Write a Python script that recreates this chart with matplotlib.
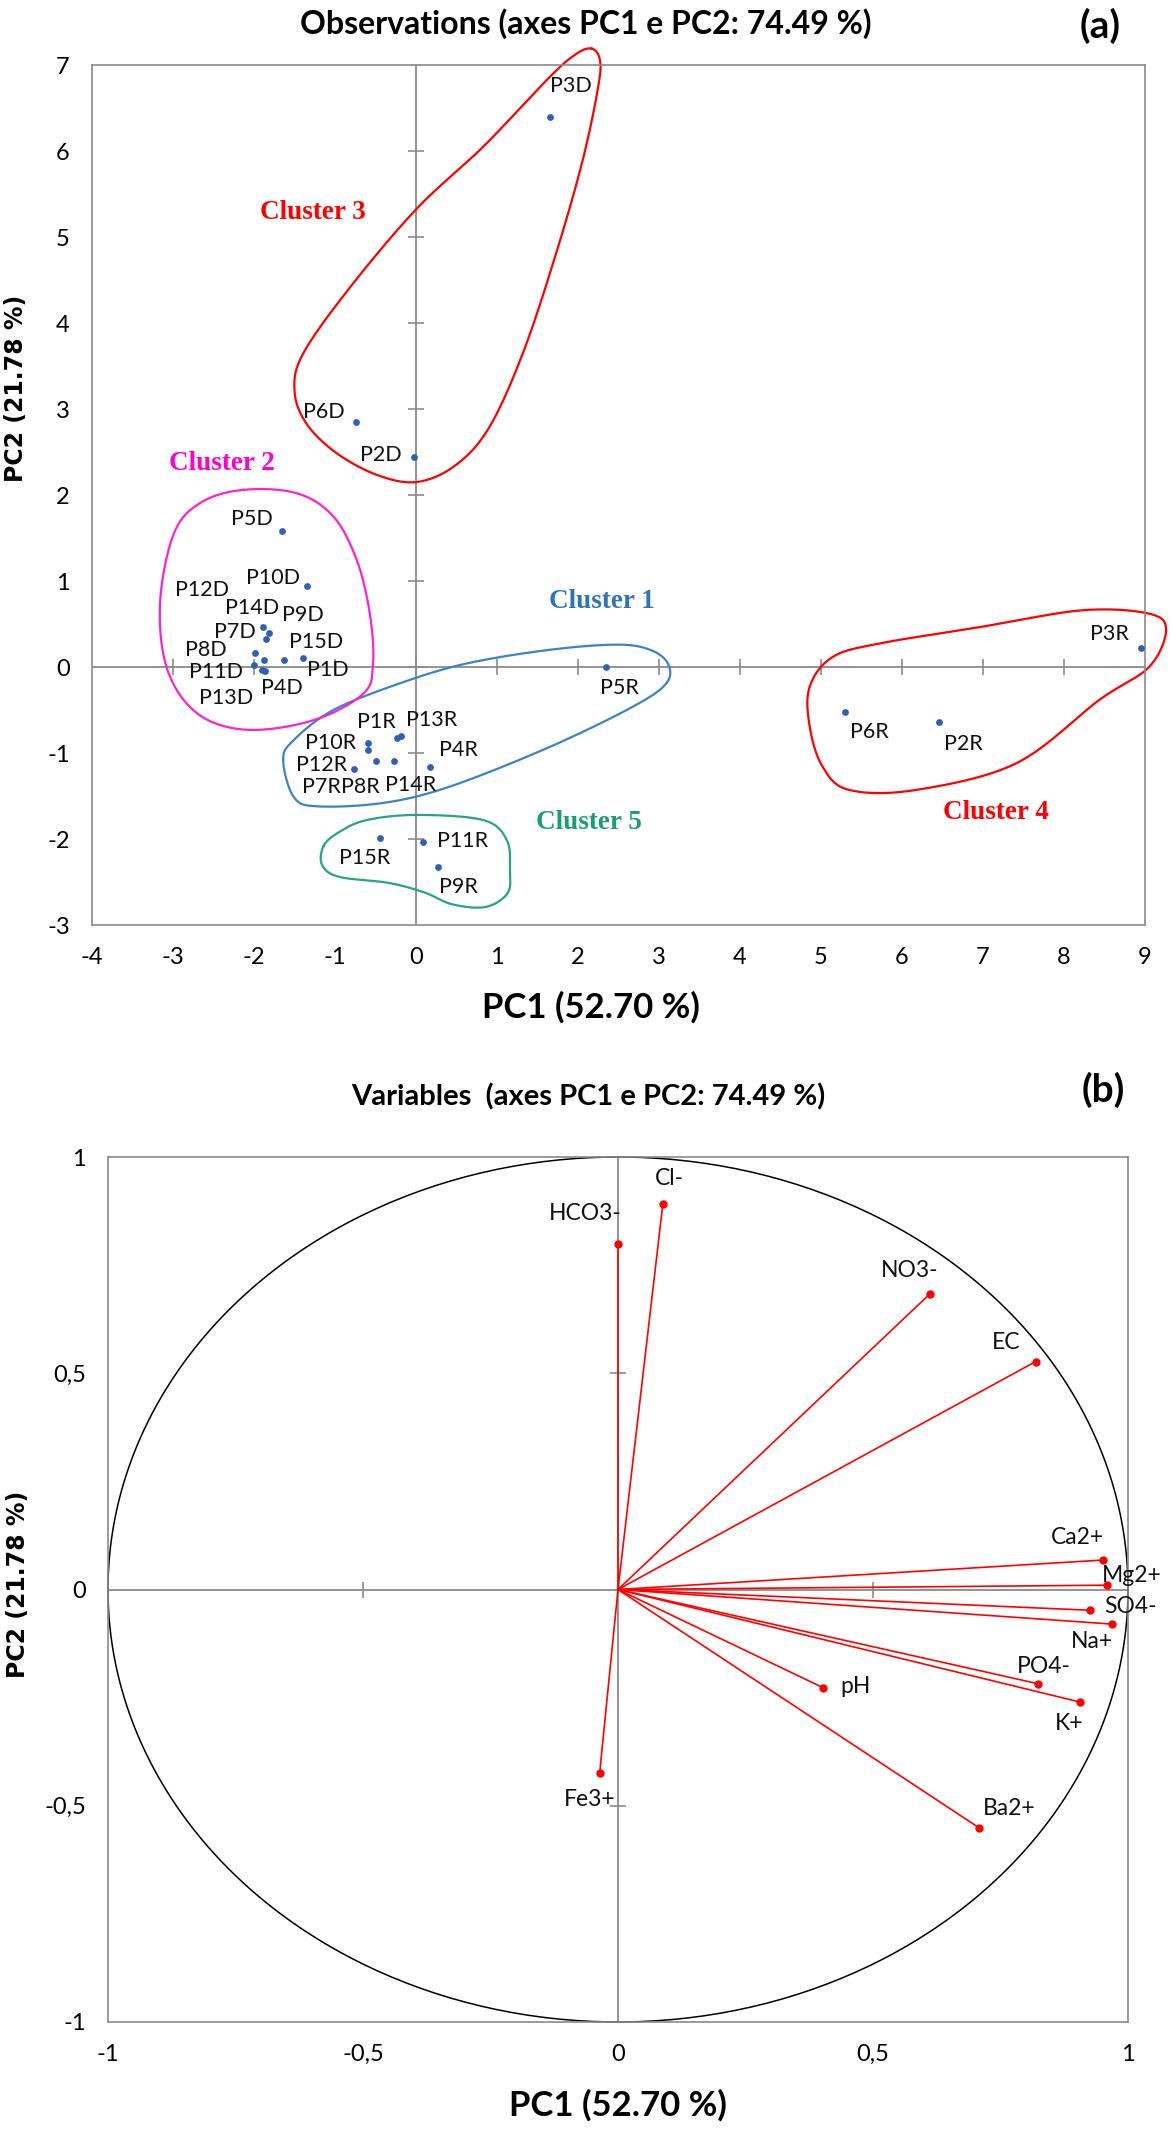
import numpy as np
import matplotlib
matplotlib.use("Agg")
import matplotlib.pyplot as plt

# ---- data ----
obs_names = ["P1D", "P2D", "P3D", "P4D", "P5D", "P6D", "P7D", "P8D", "P9D", "P10D",
             "P11D", "P12D", "P13D", "P14D", "P15D",
             "P1R", "P2R", "P3R", "P4R", "P5R", "P6R", "P7R", "P8R", "P9R", "P10R",
             "P11R", "P12R", "P13R", "P14R", "P15R"]
obs_pc1 = [-1.40, -0.03, 1.66, -1.88, -1.66, -0.74, -1.85, -2.00, -1.81, -1.35,
           -1.90, -1.985, -1.87, -1.89, -1.63,
           -0.24, 6.46, 8.95, 0.17, 2.34, 5.30, -0.59, -0.49, 0.27, -0.59,
           0.09, -0.76, -0.18, -0.27, -0.44]
obs_pc2 = [0.10, 2.44, 6.40, 0.08, 1.58, 2.85, 0.33, 0.02, 0.39, 0.94,
           -0.03, 0.16, -0.05, 0.46, 0.08,
           -0.83, -0.64, 0.22, -1.16, 0.00, -0.52, -0.97, -1.09, -2.33, -0.88,
           -2.04, -1.19, -0.80, -1.09, -1.99]

var_names = ["HCO3-", "Cl-", "NO3-", "EC", "Ca2+", "Mg2+", "SO4-", "Na+",
             "PO4-", "K+", "pH", "Ba2+", "Fe3+"]
var_pc1 = [0.000, 0.088, 0.612, 0.819, 0.950, 0.958, 0.925, 0.969,
           0.824, 0.905, 0.402, 0.708, -0.036]
var_pc2 = [0.799, 0.892, 0.684, 0.527, 0.068, 0.010, -0.048, -0.080,
           -0.218, -0.260, -0.227, -0.551, -0.425]

xticks_a = list(range(-4, 10))
yticks_a = list(range(-3, 8))
ticks_b = [-1, -0.5, 0, 0.5, 1]
ticklabels_b = ["-1", "-0,5", "0", "0,5", "1"]

# ---- label placement (offsets from the point, data units) ----
obs_label_off = {
    "P1D": (0.31, -0.14), "P2D": (-0.41, 0.03), "P3D": (0.25, 0.36), "P4D": (0.22, -0.33),
    "P5D": (-0.37, 0.14), "P6D": (-0.40, 0.11), "P7D": (-0.38, 0.08), "P8D": (-0.60, 0.18),
    "P9D": (0.41, 0.21), "P10D": (-0.41, 0.09), "P11D": (-0.57, -0.03), "P12D": (-0.655, 0.73),
    "P13D": (-0.47, -0.31), "P14D": (-0.14, 0.23), "P15D": (0.40, 0.21),
    "P1R": (-0.25, 0.19), "P2R": (0.30, -0.26), "P3R": (-0.39, 0.16), "P4R": (0.36, 0.19),
    "P5R": (0.17, -0.25), "P6R": (0.30, -0.24), "P7R": (-0.58, -0.43), "P8R": (-0.20, -0.31),
    "P9R": (0.26, -0.23), "P10R": (-0.47, 0.0), "P11R": (0.49, 0.02), "P12R": (-0.40, 0.05),
    "P13R": (0.37, 0.18), "P14R": (0.20, -0.28), "P15R": (-0.20, -0.23),
}
var_label_off = {
    "HCO3-": (-0.064, 0.071), "Cl-": (0.013, 0.059), "NO3-": (-0.04, 0.054),
    "EC": (-0.057, 0.044), "Ca2+": (-0.049, 0.052), "Mg2+": (0.049, 0.023),
    "SO4-": (0.08, 0.008), "Na+": (-0.039, -0.041), "PO4-": (0.01, 0.039),
    "K+": (-0.021, -0.05), "pH": (0.064, 0.003), "Ba2+": (0.059, 0.044),
    "Fe3+": (-0.019, -0.06),
}

# hand drawn cluster outlines (annotation shapes)
RED = "#ff0000"
clusters = [
    ("Cluster 1", "#2e75b6", "#3a84c6", (2.29, 0.76),
     [(-1.64, -1.08), (-1.51, -1.51), (-1.22, -1.62), (-0.40, -1.58), (0.42, -1.39),
      (1.65, -0.93), (2.68, -0.46), (3.09, -0.19), (3.11, 0.04), (2.89, 0.20),
      (2.48, 0.26), (1.65, 0.20), (0.62, 0.04), (-0.20, -0.19), (-1.02, -0.50),
      (-1.51, -0.85)]),
    ("Cluster 2", "#ff00cc", "#ff22cc", (-2.40, 2.37),
     [(-2.13, 2.06), (-1.47, 2.02), (-1.02, 1.75), (-0.73, 1.24), (-0.57, 0.62),
      (-0.53, 0.04), (-0.65, -0.31), (-1.27, -0.62), (-2.09, -0.73), (-2.70, -0.54),
      (-3.07, -0.03), (-3.16, 0.74), (-2.99, 1.55), (-2.66, 1.91)]),
    ("Cluster 3", RED, RED, (-1.27, 5.29),
     [(2.17, 7.19), (2.27, 7.06), (2.25, 6.75), (2.06, 5.90), (1.73, 4.81),
      (1.32, 3.65), (0.90, 2.78), (0.48, 2.34), (0.0, 2.15), (-0.50, 2.24),
      (-1.00, 2.50), (-1.36, 2.84), (-1.50, 3.22), (-1.39, 3.65), (-0.81, 4.42),
      (0.01, 5.33), (0.83, 6.05), (1.65, 6.86), (1.98, 7.13)]),
    ("Cluster 4", RED, RED, (7.16, -1.69),
     [(9.26, 0.43), (9.05, 0.62), (8.23, 0.66), (7.00, 0.47), (5.76, 0.28),
      (5.15, 0.12), (4.86, -0.23), (4.86, -0.69), (5.02, -1.16), (5.35, -1.43),
      (6.17, -1.43), (7.41, -1.12), (8.44, -0.38), (9.05, 0.00)]),
    ("Cluster 5", "#1a9e72", "#25a585", (2.13, -1.81),
     [(-1.14, -2.08), (-0.95, -1.92), (-0.61, -1.78), (0.01, -1.72), (0.83, -1.78),
      (1.12, -2.01), (1.16, -2.36), (1.13, -2.63), (0.86, -2.79), (0.45, -2.76),
      (0.10, -2.62), (-0.34, -2.51), (-0.95, -2.44), (-1.16, -2.30)]),
]


def closed_spline(pts, n=30):
    # closed Catmull-Rom curve through the outline vertices
    p = np.asarray(pts, float)
    m = len(p)
    t = np.linspace(0, 1, n, endpoint=False)[:, None]
    segs = []
    for i in range(m):
        p0, p1, p2, p3 = p[i - 1], p[i], p[(i + 1) % m], p[(i + 2) % m]
        segs.append(0.5 * (2 * p1 + (-p0 + p2) * t
                           + (2 * p0 - 5 * p1 + 4 * p2 - p3) * t ** 2
                           + (-p0 + 3 * p1 - 3 * p2 + p3) * t ** 3))
    out = np.vstack(segs)
    return np.vstack([out, out[:1]])


FONT = "Lato"
GRAY = "#8a8a8a"
W, H = 1171, 2133
fig = plt.figure(figsize=(W / 100, H / 100), dpi=100)


def box(l, t, r, b):
    return [l / W, 1 - b / H, (r - l) / W, (b - t) / H]


def style_axes(ax):
    for s in ax.spines.values():
        s.set_color(GRAY)
        s.set_linewidth(1.2)
    ax.tick_params(length=0, labelsize=17, pad=16, colors="black")
    for lab in ax.get_xticklabels() + ax.get_yticklabels():
        lab.set_fontfamily(FONT)
    ax.axhline(0, color=GRAY, lw=1.3, zorder=1)
    ax.axvline(0, color=GRAY, lw=1.3, zorder=1)


# ---------------- (a) observations ----------------
ax1 = fig.add_axes(box(92, 65, 1145, 925))
ax1.set_xlim(-4, 9)
ax1.set_ylim(-3, 7)
ax1.set_xticks(xticks_a)
ax1.set_yticks(yticks_a)
ax1.set_xticklabels([str(v) for v in xticks_a])
ax1.set_yticklabels([str(v) for v in yticks_a])
style_axes(ax1)
inner_x = [v for v in xticks_a[1:-1]]
inner_y = [v for v in yticks_a[1:-1]]
ax1.plot(inner_x, [0] * len(inner_x), ls="none", marker="|", ms=12, mew=1.2, color=GRAY, zorder=1)
ax1.plot([0] * len(inner_y), inner_y, ls="none", marker="_", ms=12, mew=1.2, color=GRAY, zorder=1)

for name, tcol, lcol, tpos, outline in clusters:
    c = closed_spline(outline)
    ax1.plot(c[:, 0], c[:, 1], color=lcol, lw=1.6, clip_on=False, zorder=2)
    ax1.text(tpos[0], tpos[1], name, color=tcol, fontsize=19.5, fontweight="bold",
             family="Liberation Serif", ha="center", va="center")

ax1.scatter(obs_pc1, obs_pc2, s=24, color="#2f5fb8", zorder=3, linewidths=0)
for nm, x, y in zip(obs_names, obs_pc1, obs_pc2):
    dx, dy = obs_label_off[nm]
    ax1.text(x + dx, y + dy, nm, fontsize=15.5, family=FONT, ha="center", va="center",
             color="#111111", zorder=4)

fig.text(586 / W, 1 - 24 / H, "Observations (axes PC1 e PC2: 74.49 %)", fontsize=23,
         fontweight="bold", family=FONT, ha="center", va="center")
fig.text(1100 / W, 1 - 26 / H, "(a)", fontsize=28, fontweight="bold", family=FONT,
         ha="center", va="center")
fig.text(591 / W, 1 - 1007 / H, "PC1 (52.70 %)", fontsize=25, fontweight="bold",
         family=FONT, ha="center", va="center")
fig.text(16 / W, 1 - 388 / H, "PC2 (21.78 %)", fontsize=17, fontweight="bold",
         family="DejaVu Sans", rotation=90, ha="center", va="center")

# ---------------- (b) variables ----------------
ax2 = fig.add_axes(box(108, 1157, 1128, 2022))
ax2.set_xlim(-1, 1)
ax2.set_ylim(-1, 1)
ax2.set_xticks(ticks_b)
ax2.set_yticks(ticks_b)
ax2.set_xticklabels(ticklabels_b)
ax2.set_yticklabels(ticklabels_b)
style_axes(ax2)
ax2.plot([-0.5, 0.5], [0, 0], ls="none", marker="|", ms=12, mew=1.2, color=GRAY, zorder=1)
ax2.plot([0, 0], [-0.5, 0.5], ls="none", marker="_", ms=12, mew=1.2, color=GRAY, zorder=1)

th = np.linspace(0, 2 * np.pi, 400)
ax2.plot(np.cos(th), np.sin(th), color="black", lw=1.1, zorder=2, clip_on=False)

for nm, x, y in zip(var_names, var_pc1, var_pc2):
    ax2.plot([0, x], [0, y], color=RED, lw=1.2, zorder=3)
    ax2.plot(x, y, marker="o", ms=5, color=RED, zorder=4)
    dx, dy = var_label_off[nm]
    ax2.text(x + dx, y + dy, nm, fontsize=16.5, family=FONT, ha="center", va="center",
             color="#111111", zorder=5)

fig.text(588 / W, 1 - 1097 / H, "Variables  (axes PC1 e PC2: 74.49 %)", fontsize=21,
         fontweight="bold", family=FONT, ha="center", va="center")
fig.text(1103 / W, 1 - 1090 / H, "(b)", fontsize=28, fontweight="bold", family=FONT,
         ha="center", va="center")
fig.text(618 / W, 1 - 2105 / H, "PC1 (52.70 %)", fontsize=25, fontweight="bold",
         family=FONT, ha="center", va="center")
fig.text(18 / W, 1 - 1584 / H, "PC2 (21.78 %)", fontsize=17, fontweight="bold",
         family="DejaVu Sans", rotation=90, ha="center", va="center")

fig.savefig("out.png", dpi=100)
